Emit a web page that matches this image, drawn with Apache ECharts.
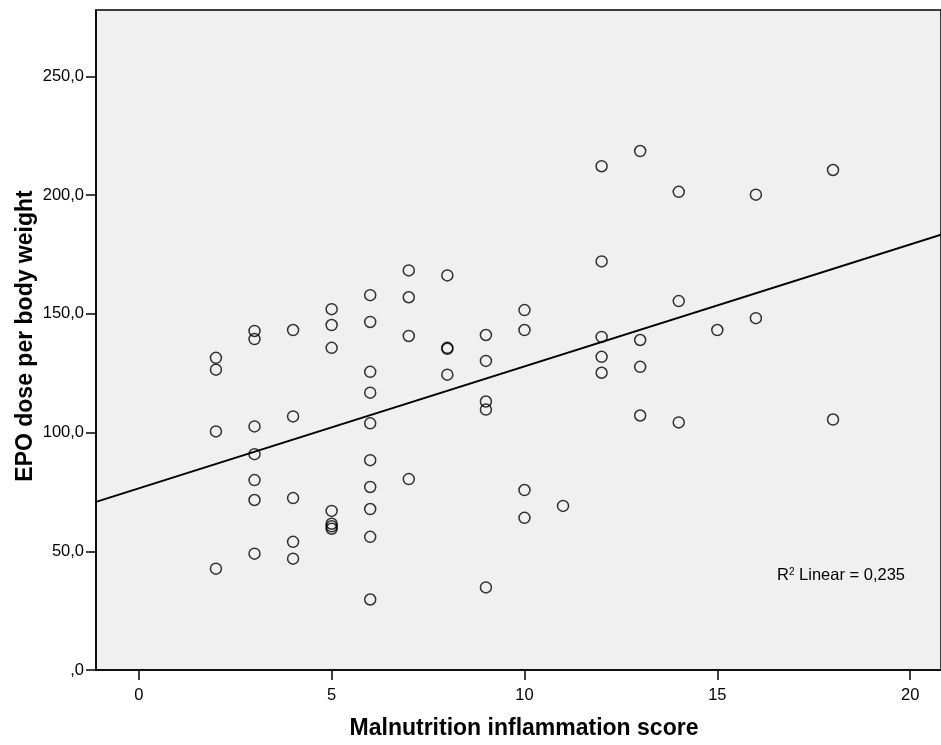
<!DOCTYPE html>
<html>
<head>
<meta charset="utf-8">
<script src="https://cdn.jsdelivr.net/npm/echarts@6/dist/echarts.min.js"></script>
<style>
html,body{margin:0;padding:0;background:#fff;}
#chart{width:941px;height:745px;}
</style>
</head>
<body>
<div id="chart"></div>
<script>
// Malnutrition inflammation score (x) and EPO dose per body weight (y)
const misScore = [2,2,2,2, 3,3,3,3,3,3,3, 4,4,4,4,4, 5,5,5,5,5,5,5,
  6,6,6,6,6,6,6,6,6,6, 7,7,7,7, 8,8,8,8, 9,9,9,9,9, 10,10,10,10, 11,
  12,12,12,12,12, 13,13,13,13, 14,14,14, 15, 16,16, 18,18];
const epoDose = [131.5,126.5,100.5,42.7,
  142.8,139.4,102.6,90.9,80.0,71.6,49.0,
  143.2,106.8,72.4,54.0,46.9,
  152.0,145.3,135.7,67.0,61.6,60.5,59.5,
  157.9,146.6,125.6,116.8,103.9,88.4,77.1,67.8,56.1,29.7,
  168.3,157.0,140.7,80.4,
  166.2,135.7,135.3,124.4,
  141.1,130.2,113.1,109.7,34.8,
  151.6,143.2,75.8,64.1,
  69.1,
  212.2,172.1,140.3,131.9,125.2,
  218.6,139.0,127.7,107.2,
  201.4,155.4,104.3,
  143.2,
  200.2,148.2,
  210.6,105.5];
// Fit line endpoints (at the axis edges)
const fitX = [-1.11, 20.8];
const fitY = [70.8, 183.4];
const xTicks = [0,5,10,15,20];
const yTicks = [0,50,100,150,200,250];
const r2Label = '0,235';

const points = misScore.map((x,i)=>[x, epoDose[i]]);
const fitLine = fitX.map((x,i)=>[x, fitY[i]]);

const chart = echarts.init(document.getElementById('chart'));
const font = 'Liberation Sans, Arial, sans-serif';
chart.setOption({
  animation: false,
  backgroundColor: '#ffffff',
  grid: {left: 96, right: 0, top: 10, bottom: 71, show: true,
    backgroundColor: '#f0f0f0', borderColor: '#000', borderWidth: 1.5},
  xAxis: {
    type: 'value', min: -1.11, max: 20.8,
    name: 'Malnutrition inflammation score', nameLocation: 'middle', nameGap: 47,
    nameTextStyle: {fontFamily: font, fontWeight: 'bold', fontSize: 23, color: '#000', padding: [0,0,0,11]},
    axisLine: {show: true, onZero: false, lineStyle: {color: '#000', width: 1.5}},
    axisTick: {show: true, customValues: xTicks, length: 10, lineStyle: {color: '#000', width: 1.5}},
    axisLabel: {customValues: xTicks, margin: 17, fontFamily: font, fontSize: 16.5, color: '#000'},
    splitLine: {show: false}
  },
  yAxis: {
    type: 'value', min: 0, max: 278,
    name: 'EPO dose per body weight', nameLocation: 'middle', nameGap: 59, nameMoveOverlap: false,
    nameTextStyle: {fontFamily: font, fontWeight: 'bold', fontSize: 23, color: '#000', padding: [0,0,0,8]},
    axisLine: {show: true, onZero: false, lineStyle: {color: '#000', width: 1.5}},
    axisTick: {show: true, customValues: yTicks, length: 10, lineStyle: {color: '#000', width: 1.5}},
    axisLabel: {customValues: yTicks, margin: 12, fontFamily: font, fontSize: 16.5, color: '#000',
      formatter: v => v === 0 ? ',0' : v.toFixed(1).replace('.', ',')},
    splitLine: {show: false}
  },
  graphic: [{
    type: 'text', left: 777, top: 567,
    style: {
      text: '{r|R}{s|2}{r| Linear = ' + r2Label + '}',
      rich: {
        r: {fontFamily: font, fontSize: 16.5, fill: '#000', verticalAlign: 'bottom'},
        s: {fontFamily: font, fontSize: 10, fill: '#000', verticalAlign: 'top'}
      }
    }
  }],
  series: [
    {type: 'line', data: fitLine, showSymbol: false, symbol: 'none', silent: true,
      lineStyle: {color: '#000', width: 2}, z: 1},
    {type: 'scatter', data: points, symbol: 'circle', symbolSize: 11,
      itemStyle: {color: 'rgba(0,0,0,0)', borderColor: '#000', borderWidth: 1.5}, z: 2}
  ]
});
</script>
</body>
</html>
